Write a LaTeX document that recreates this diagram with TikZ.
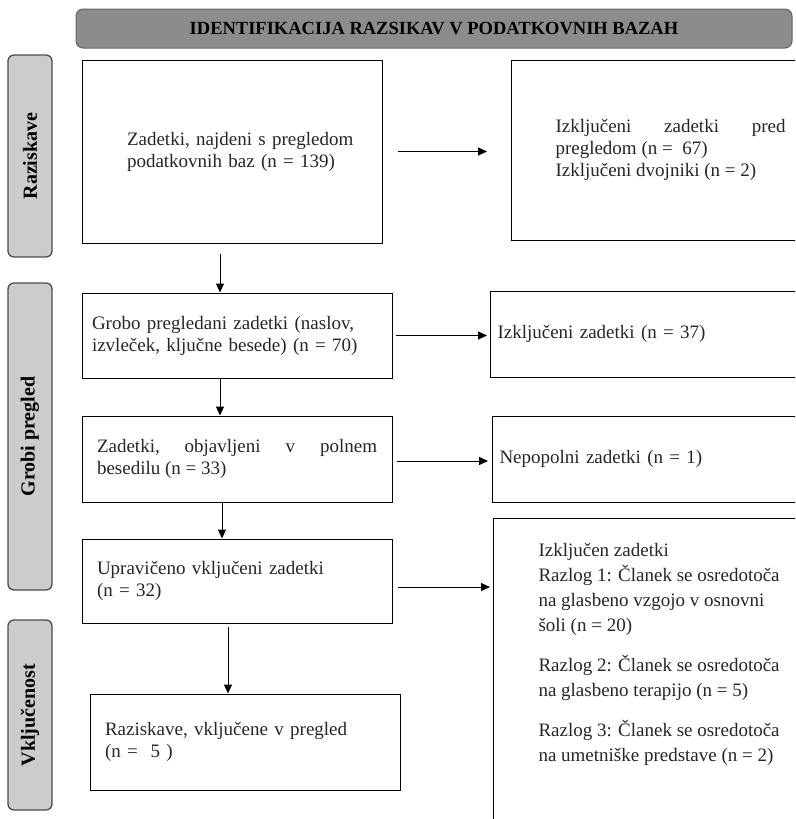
\documentclass[tikz,border=0pt]{standalone}
\usepackage{fontspec}
\setmainfont{Liberation Serif}
\usetikzlibrary{arrows.meta}

\tikzset{
  okvir/.style={draw, line width=1pt, rectangle, inner sep=0pt, text=black!85,
    font=\fontsize{19}{22}\selectfont},
  faza/.style={draw=black!70, fill=black!20, rounded corners=6pt, line width=1.3pt,
    minimum height=44pt, rotate=90, font=\bfseries\fontsize{20}{24}\selectfont},
  pasica/.style={draw=black!60, fill=black!45, rounded corners=7pt, line width=1pt,
    minimum width=716pt, minimum height=39pt, font=\bfseries\fontsize{18.5}{22}\selectfont},
  tok/.style={-{Triangle[length=9pt,width=8pt]}, line width=1pt},
}

\begin{document}
\begin{tikzpicture}[x=1pt,y=-1pt]
\clip (0,0) rectangle (795,819);

% naslov in faze
\node[pasica] (naslov) at (434,28.5) {IDENTIFIKACIJA RAZSIKAV V PODATKOVNIH BAZAH};
\node[faza, minimum width=202pt] (f1) at (30,156) {Raziskave};
\node[faza, minimum width=307pt] (f2) at (30,436.5) {Grobi pregled};
\node[faza, minimum width=190pt] (f3) at (30,715) {Vključenost};

% levi stolpec
\node[okvir, minimum width=300pt, minimum height=183pt, text width=210pt, align=left]
  (zadetki) at (232,151.5) {\mbox{Zadetki, najdeni s pregledom}\\ podatkovnih baz (n = 139)};
\node[okvir, minimum width=310pt, minimum height=85pt, text width=290pt, align=left]
  (grobo) at (237,335.5) {Grobo pregledani zadetki (naslov,\\ izvleček, ključne besede) (n = 70)};
\node[okvir, minimum width=310pt, minimum height=86pt, text width=280pt, align=justify]
  (polno) at (237,459) {Zadetki, \hfill objavljeni \hfill v \hfill polnem\\ besedilu (n = 33)};
\node[okvir, minimum width=310pt, minimum height=84pt, text width=280pt, align=left]
  (upravic) at (237,581) {Upravičeno vključeni zadetki\\ (n = 32)};
\node[okvir, minimum width=310pt, minimum height=96pt, text width=280pt, align=left]
  (vkljucene) at (245,742) {Raziskave, vključene v pregled\\ (n = \ 5 )};

% desni stolpec
\node[okvir, anchor=west, minimum width=318pt, minimum height=180pt, text width=230pt, align=justify]
  (izlocitev) at (511,150) {Izključeni \hfill zadetki \hfill pred\\ pregledom (n = \ 67)\\ Izključeni dvojniki (n = 2)};
\node[okvir, anchor=west, minimum width=340pt, minimum height=86pt, text width=326pt, align=left]
  (izkl37) at (490,334) {Izključeni zadetki (n = 37)};
\node[okvir, anchor=west, minimum width=340pt, minimum height=86pt, text width=326pt, align=left]
  (nepopolni) at (492,459) {Nepopolni zadetki (n = 1)};
\node[okvir, anchor=north west, inner xsep=45pt, inner ysep=25pt]
  (razlogi) at (493,518) {\parbox[t][340pt][t]{260pt}{\fontsize{19}{25}\selectfont\raggedright
  Izključen zadetki\\ Razlog 1: Članek se osredotoča\\ na glasbeno vzgojo v osnovni\\ šoli (n = 20)\\[15pt]
  Razlog 2: Članek se osredotoča\\ na glasbeno terapijo (n = 5)\\[15pt]
  Razlog 3: Članek se osredotoča\\ na umetniške predstave (n = 2)}};

% puscice navzdol
\draw[tok, shorten <=10pt] ([xshift=-12pt]zadetki.south) -- ([xshift=-17pt]grobo.north);
\draw[tok] ([xshift=-17pt]grobo.south) -- ([xshift=-17pt]polno.north);
\draw[tok] ([xshift=-15pt]polno.south) -- ([xshift=-15pt]upravic.north);
\draw[tok, shorten <=3pt] ([xshift=-9pt]upravic.south) -- ([xshift=-17pt]vkljucene.north);

% puscice desno
\draw[tok, shorten <=15pt, shorten >=24pt] (zadetki.east) -- (zadetki.east -| izlocitev.west);
\draw[tok, shorten <=3pt, shorten >=3pt] (grobo.east) -- (grobo.east -| izkl37.west);
\draw[tok, shorten <=4pt, shorten >=4pt] ([yshift=-2pt]polno.east) -- ([yshift=-2pt]polno.east -| nepopolni.west);
\draw[tok, shorten <=5pt, shorten >=3pt] ([yshift=-6pt]upravic.east) -- ([yshift=-6pt]upravic.east -| razlogi.west);
\end{tikzpicture}
\end{document}
